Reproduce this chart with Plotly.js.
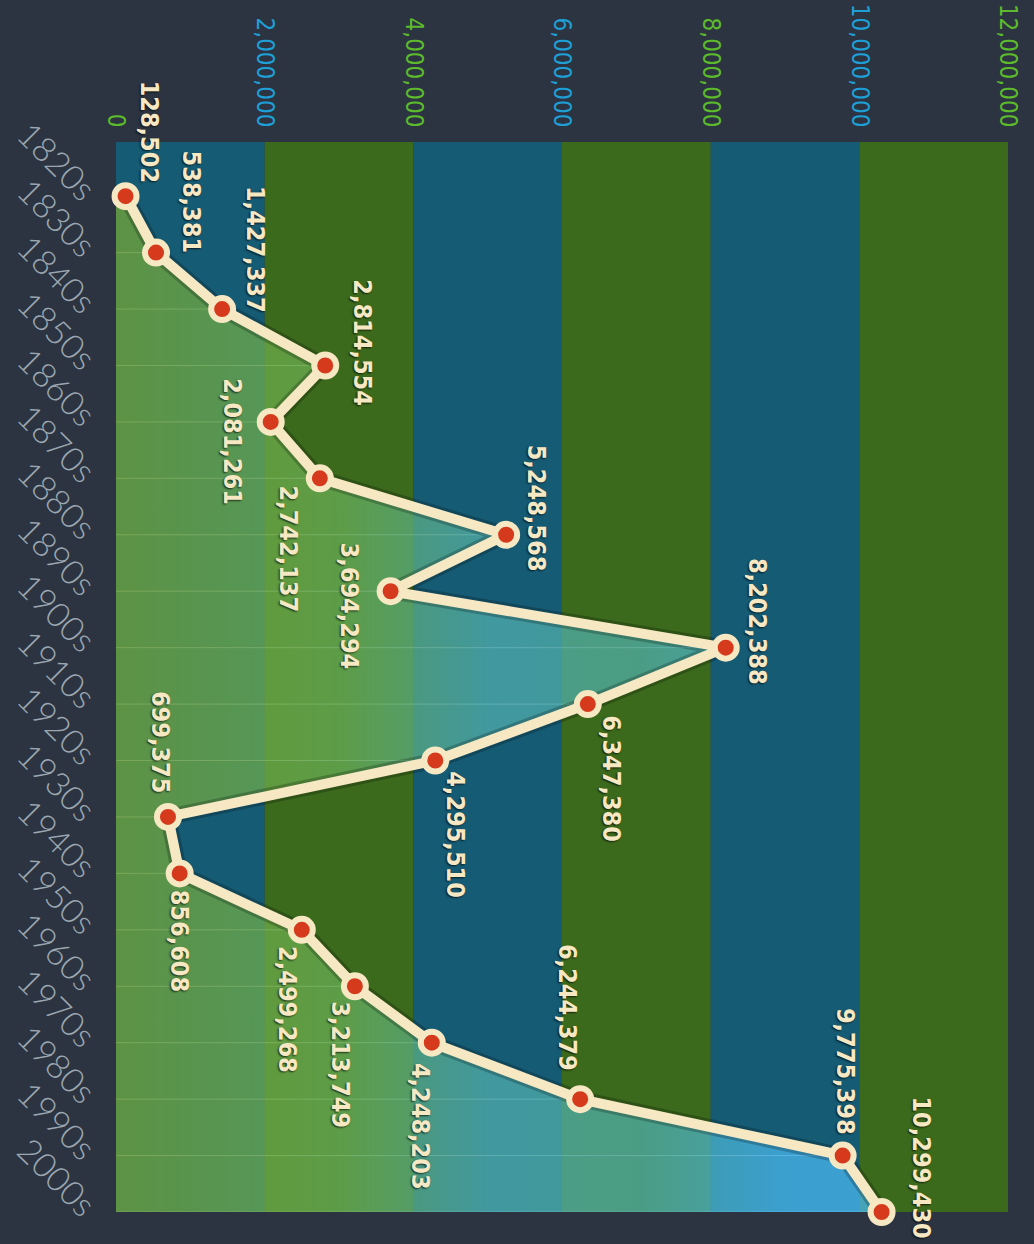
<!DOCTYPE html>
<html><head><meta charset="utf-8">
<script src="https://cdn.plot.ly/plotly-3.0.1.min.js"></script>
<style>html,body{margin:0;padding:0;background:#2b3440;}#chart{width:1034px;height:1244px;}</style>
</head><body><div id="chart"></div>
<script>
const decades = ['1820s','1830s','1840s','1850s','1860s','1870s','1880s','1890s','1900s','1910s',
                 '1920s','1930s','1940s','1950s','1960s','1970s','1980s','1990s','2000s'];
const values = [128502, 538381, 1427337, 2814554, 2081261, 2742137, 5248568, 3694294, 8202388, 6347380,
                4295510, 699375, 856608, 2499268, 3213749, 4248203, 6244379, 9775398, 10299430];
const tickValues = [0, 2000000, 4000000, 6000000, 8000000, 10000000, 12000000];
const tickLabels = ['0', '2,000,000', '4,000,000', '6,000,000', '8,000,000', '10,000,000', '12,000,000'];

// styling (label offsets in px, relative to each point)
const tickColors = ['#5cba2c', '#1e9fd6'];
const bandColors = ['#165b74', '#3c6a1c'];
const labelShiftX = [24, 35, 34, 37, -39, -31, 30, -41, 32, 24, 20, -8, 0, -15, -14, -11, -12, 3, 40];
const labelShiftY = [-65, -51, -60, -23, 20, 71, -27, 15, -26, 75, 74, -75, 67, 80, 79, 84, -92, -84, -45];

const cream = '#f6e8c3';
const condensed = 'DejaVu Sans Condensed, Liberation Sans Narrow, Roboto, sans-serif';

const shapes = [];
for (let i = 0; i < tickValues.length - 1; i++) {
  shapes.push({type: 'rect', xref: 'x', yref: 'paper', x0: tickValues[i], x1: tickValues[i + 1],
    y0: 0, y1: 1, fillcolor: bandColors[i % 2], line: {width: 0}, layer: 'below'});
}
for (let i = 0; i < decades.length; i++) {
  shapes.push({type: 'line', xref: 'x', yref: 'y', x0: 0, x1: values[i], y0: decades[i], y1: decades[i],
    line: {color: 'rgba(255,255,255,0.45)', width: 1}, layer: 'below'});
}

const annotations = values.map((v, i) => ({
  x: v, y: decades[i], xref: 'x', yref: 'y', text: v.toLocaleString('en-US'),
  showarrow: false, textangle: 90, xanchor: 'center', yanchor: 'middle',
  xshift: labelShiftX[i], yshift: -labelShiftY[i],
  font: {family: condensed, size: 25, color: cream, weight: 'bold', shadow: '1px 1px 2px rgba(0,0,0,0.7)'}
}));

const fillTrace = {
  x: values, y: decades, type: 'scatter', mode: 'none', fill: 'tozerox',
  fillgradient: {type: 'horizontal', start: 0, stop: 10300000,
    colorscale: [[0, 'rgba(120,168,50,0.72)'], [0.29, 'rgba(106,176,88,0.72)'], [0.49, 'rgba(82,177,176,0.72)'],
                 [0.68, 'rgba(80,176,170,0.72)'], [0.87, 'rgba(74,186,242,0.72)'], [1, 'rgba(74,186,245,0.72)']]},
  hoverinfo: 'skip', showlegend: false
};
const shadowTrace = {
  x: values, y: decades, type: 'scatter', mode: 'lines',
  line: {color: 'rgba(0,0,0,0.22)', width: 16}, hoverinfo: 'skip', showlegend: false
};
const lineTrace = {
  x: values, y: decades, type: 'scatter', mode: 'lines+markers', cliponaxis: false,
  line: {color: cream, width: 10},
  marker: {size: 22, color: '#d63a1c', line: {color: cream, width: 6}},
  showlegend: false
};

const layout = {
  width: 1034, height: 1244,
  paper_bgcolor: '#2b3440', plot_bgcolor: '#2b3440',
  margin: {l: 116, r: 26, t: 142, b: 32},
  showlegend: false,
  xaxis: {side: 'top', range: [0, 12000000], tickvals: tickValues,
    ticktext: tickLabels.map((t, i) => '<span style="color:' + tickColors[i % 2] + '">' + t + '</span>'),
    tickangle: 90, showgrid: false, zeroline: false, showline: false, ticks: '',
    ticklabelstandoff: 10,
    tickfont: {family: condensed, size: 24, color: tickColors[0], weight: 500}},
  yaxis: {type: 'category', categoryarray: decades, categoryorder: 'array', range: [18, -0.96],
    tickangle: 45, showgrid: false, zeroline: false, showline: false, ticks: '',
    ticklabelstandoff: 22,
    tickfont: {family: 'Lato, Open Sans, sans-serif', size: 34, color: '#9ba6b0', weight: 300}},
  shapes: shapes,
  annotations: annotations
};

Plotly.newPlot('chart', [fillTrace, shadowTrace, lineTrace], layout, {displayModeBar: false, staticPlot: true});
</script>
</body></html>
